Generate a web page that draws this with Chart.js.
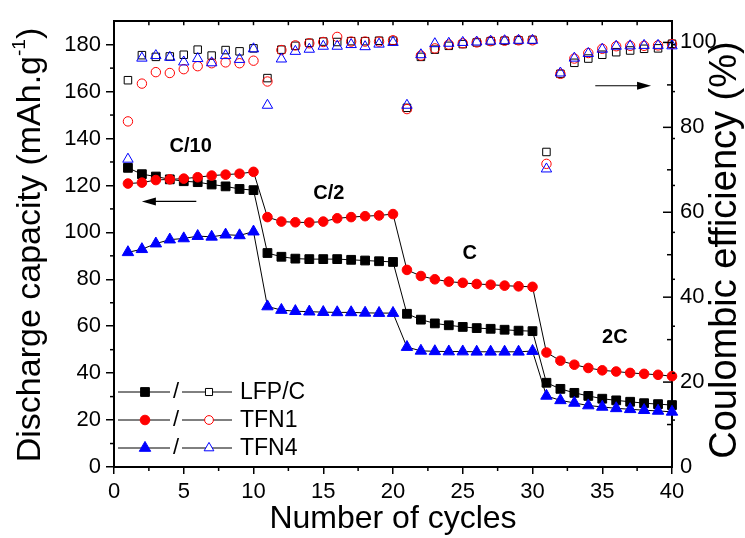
<!DOCTYPE html>
<html>
<head>
<meta charset="utf-8">
<script src="https://cdn.jsdelivr.net/npm/chart.js@4.4.0/dist/chart.umd.min.js"></script>
<style>
  html, body { margin: 0; padding: 0; background: #fff; }
  canvas { display: block; }
</style>
</head>
<body>
<canvas id="grafico" width="745" height="538"></canvas>
<script>
const familia = "'Liberation Sans', Arial, sans-serif";

const ciclos = [1, 2, 3, 4, 5, 6, 7, 8, 9, 10, 11, 12, 13, 14, 15, 16, 17, 18, 19, 20,
  21, 22, 23, 24, 25, 26, 27, 28, 29, 30, 31, 32, 33, 34, 35, 36, 37, 38, 39, 40];

const muestras = ['LFP/C', 'TFN1', 'TFN4'];
const regimenes = ['C/10', 'C/2', 'C', '2C'];

// capacidad de descarga (mAh/g)
const capLFP = [127.5, 124.8, 123.8, 122.6, 121.8, 121.4, 120.4, 119.6, 118.5, 118.0,
  91.2, 89.6, 88.8, 88.6, 88.6, 88.6, 88.3, 88.0, 87.7, 87.4,
  65.3, 62.8, 61.2, 60.4, 59.7, 59.2, 58.9, 58.5, 58.1, 57.9,
  35.9, 33.3, 31.6, 30.3, 29.1, 28.4, 27.8, 27.2, 26.8, 26.4];
const capTFN1 = [120.8, 121.2, 122.3, 122.6, 122.9, 123.5, 124.2, 124.6, 125.0, 125.8,
  106.5, 104.6, 104.3, 104.2, 104.6, 106.0, 106.5, 106.9, 107.2, 107.8,
  84.0, 81.4, 80.0, 79.0, 78.5, 78.0, 77.7, 77.3, 77.0, 76.8,
  48.8, 45.3, 43.6, 42.2, 41.2, 40.7, 40.1, 39.7, 39.3, 38.7];
const capTFN4 = [91.5, 92.8, 95.2, 96.9, 97.4, 98.4, 98.1, 99.0, 98.7, 100.3,
  68.4, 66.9, 66.4, 66.2, 66.0, 65.9, 65.9, 65.7, 65.6, 65.6,
  51.1, 49.5, 49.3, 49.2, 49.2, 49.1, 49.1, 49.1, 49.1, 49.4,
  30.3, 28.4, 27.3, 26.2, 25.6, 25.0, 24.6, 24.2, 23.9, 23.5];

// eficiencia coulombica (%)
const efLFP = [91.1, 97.0, 96.6, 96.7, 97.1, 98.3, 96.9, 98.2, 97.9, 98.6,
  91.6, 98.3, 99.2, 99.9, 100.2, 100.1, 100.3, 100.3, 100.4, 100.4,
  84.6, 96.6, 98.3, 99.2, 99.6, 100.0, 100.3, 100.4, 100.5, 100.6,
  74.2, 92.6, 95.2, 96.2, 97.1, 97.7, 98.1, 98.5, 98.6, 99.7];
const efTFN1 = [81.4, 90.3, 93.0, 92.8, 93.7, 94.4, 95.1, 95.3, 95.1, 95.7,
  90.8, 98.2, 99.3, 99.8, 100.1, 101.3, 100.2, 100.2, 100.2, 100.5,
  84.3, 96.9, 98.6, 99.5, 99.8, 100.0, 100.3, 100.4, 100.5, 100.5,
  71.4, 92.6, 96.2, 97.5, 98.5, 99.1, 99.2, 99.2, 99.3, 99.6];
const efTFN4 = [72.5, 96.3, 96.9, 96.5, 95.4, 96.2, 95.2, 96.9, 96.0, 98.5,
  85.2, 96.1, 97.9, 98.4, 99.1, 99.1, 99.5, 99.0, 99.6, 100.0,
  85.2, 97.1, 99.7, 99.8, 100.0, 100.1, 100.3, 100.4, 100.5, 100.5,
  70.2, 92.8, 96.3, 97.4, 98.4, 99.1, 99.2, 99.3, 99.3, 99.2];

const colores = ['#000000', '#ff0000', '#0000ff'];
const estilos = ['rect', 'circle', 'triangle'];

const puntos = (valores) => ciclos.map((c, i) => ({ x: c, y: valores[i] }));

function serieLlena(label, valores, idx, orden) {
  const radios = [6.2, 4.8, 6.6];
  return {
    label: label,
    data: puntos(valores),
    yAxisID: 'y',
    borderColor: '#000',
    borderWidth: 1,
    pointStyle: estilos[idx],
    pointRadius: radios[idx],
    pointHoverRadius: radios[idx],
    pointBackgroundColor: colores[idx],
    pointBorderColor: colores[idx],
    pointBorderWidth: 1,
    tension: 0,
    clip: false,
    order: orden
  };
}

function serieHueca(label, valores, idx, orden) {
  const radios = [5.3, 4.7, 6.0];
  return {
    label: label,
    data: puntos(valores),
    yAxisID: 'y2',
    showLine: false,
    pointStyle: estilos[idx],
    pointRadius: radios[idx],
    pointHoverRadius: radios[idx],
    pointBackgroundColor: 'rgba(0,0,0,0)',
    pointBorderColor: colores[idx],
    pointBorderWidth: 1,
    clip: false,
    order: orden
  };
}

function marcador(ctx, estilo, x, y, r, relleno, borde) {
  ctx.beginPath();
  if (estilo === 'rect') {
    const s = r * Math.SQRT1_2;
    ctx.rect(x - s, y - s, 2 * s, 2 * s);
  } else if (estilo === 'circle') {
    ctx.arc(x, y, r, 0, Math.PI * 2);
  } else {
    ctx.moveTo(x, y - r);
    ctx.lineTo(x + r * 0.866, y + r * 0.5);
    ctx.lineTo(x - r * 0.866, y + r * 0.5);
    ctx.closePath();
  }
  ctx.fillStyle = relleno;
  ctx.fill();
  ctx.strokeStyle = borde;
  ctx.lineWidth = 1;
  ctx.stroke();
}

function linea(ctx, x1, y1, x2, y2) {
  ctx.beginPath();
  ctx.moveTo(x1, y1);
  ctx.lineTo(x2, y2);
  ctx.stroke();
}

function flecha(ctx, x1, y1, x2, y2) {
  const dir = Math.sign(x2 - x1);
  ctx.lineWidth = 1.2;
  linea(ctx, x1, y1, x2 - dir * 10, y2);
  ctx.beginPath();
  ctx.moveTo(x2, y2);
  ctx.lineTo(x2 - dir * 14, y2 - 4);
  ctx.lineTo(x2 - dir * 14, y2 + 4);
  ctx.closePath();
  ctx.fill();
}

const extras = {
  id: 'extras',
  afterDraw(chart) {
    const { ctx, chartArea: area, scales: { x, y, y2 } } = chart;
    ctx.save();
    ctx.strokeStyle = '#000';
    ctx.fillStyle = '#000';
    ctx.lineWidth = 1.5;

    // marcas menores e interiores
    for (let v = 2.5; v < 40; v += 2.5) {
      const px = x.getPixelForValue(v);
      if (v % 5 !== 0) linea(ctx, px, area.bottom, px, area.bottom + 4);
      linea(ctx, px, area.top, px, area.top + 4);
    }
    for (let v = 10; v < 190; v += 20) {
      const py = y.getPixelForValue(v);
      linea(ctx, area.left - 4, py, area.left, py);
    }
    for (let v = 0; v <= 100; v += 20) {
      const py = y2.getPixelForValue(v);
      linea(ctx, area.right - 9, py, area.right, py);
    }
    for (let v = 10; v < 105; v += 20) {
      const py = y2.getPixelForValue(v);
      linea(ctx, area.right - 5, py, area.right, py);
    }
    for (let v = 20; v < 190; v += 20) {
      const py = y.getPixelForValue(v);
      linea(ctx, area.right, py, area.right + 3, py);
    }

    // titulos de los ejes verticales
    ctx.textBaseline = 'middle';
    ctx.textAlign = 'left';
    ctx.save();
    ctx.translate(31, 245);
    ctx.rotate(-Math.PI / 2);
    ctx.font = `34px ${familia}`;
    const base = 'Discharge capacity (mAh.g';
    const w1 = ctx.measureText(base).width;
    const w3 = ctx.measureText(')').width;
    ctx.font = `19px ${familia}`;
    const w2 = ctx.measureText('-1').width;
    let xx = -(w1 + w2 + w3) / 2;
    ctx.font = `34px ${familia}`;
    ctx.fillText(base, xx, 0);
    xx += w1;
    ctx.font = `19px ${familia}`;
    ctx.fillText('-1', xx, -11);
    xx += w2;
    ctx.font = `34px ${familia}`;
    ctx.fillText(')', xx, 0);
    ctx.restore();

    ctx.save();
    ctx.translate(726, 250);
    ctx.rotate(-Math.PI / 2);
    ctx.font = `38px ${familia}`;
    ctx.textAlign = 'center';
    ctx.fillText('Coulombic efficiency (%)', 0, 0);
    ctx.restore();

    // regimenes de carga
    ctx.font = `bold 20px ${familia}`;
    ctx.textAlign = 'center';
    const sitios = [[5.5, 136.8], [15.4, 116.6], [25.5, 90.9], [35.9, 55.1]];
    regimenes.forEach((txt, i) => {
      ctx.fillText(txt, x.getPixelForValue(sitios[i][0]), y.getPixelForValue(sitios[i][1]));
    });

    // flechas
    flecha(ctx, x.getPixelForValue(5.9), y.getPixelForValue(113.2),
      x.getPixelForValue(2.0), y.getPixelForValue(113.2));
    flecha(ctx, x.getPixelForValue(34.5), y2.getPixelForValue(89.8),
      x.getPixelForValue(38.5), y2.getPixelForValue(89.8));

    // leyenda
    const radiosLlenos = [6.2, 4.8, 6.6];
    const radiosHuecos = [5.0, 4.4, 5.6];
    ctx.textAlign = 'left';
    muestras.forEach((nombre, i) => {
      const fy = area.bottom - 75 + i * 28;
      const lx = area.left + 4;
      ctx.strokeStyle = '#000';
      ctx.lineWidth = 1;
      linea(ctx, lx, fy, lx + 52, fy);
      linea(ctx, lx + 64, fy, lx + 114, fy);
      marcador(ctx, estilos[i], lx + 27, fy, radiosLlenos[i], colores[i], colores[i]);
      marcador(ctx, estilos[i], lx + 91, fy, radiosHuecos[i], '#fff', colores[i]);
      ctx.fillStyle = '#000';
      ctx.font = `22px ${familia}`;
      ctx.fillText('/', lx + 55, fy);
      ctx.font = `23px ${familia}`;
      ctx.fillText(nombre, lx + 122, fy + 1);
    });
    ctx.restore();
  }
};

const fuenteTicks = { size: 22, family: familia };

new Chart(document.getElementById('grafico'), {
  type: 'line',
  data: {
    datasets: [
      serieLlena('LFP/C', capLFP, 0, 6),
      serieLlena('TFN1', capTFN1, 1, 5),
      serieLlena('TFN4', capTFN4, 2, 4),
      serieHueca('LFP/C', efLFP, 0, 3),
      serieHueca('TFN1', efTFN1, 1, 2),
      serieHueca('TFN4', efTFN4, 2, 1)
    ]
  },
  options: {
    responsive: false,
    animation: false,
    events: [],
    layout: { padding: 0 },
    plugins: {
      legend: { display: false },
      tooltip: { enabled: false }
    },
    scales: {
      x: {
        type: 'linear',
        position: 'bottom',
        min: 0,
        max: 40,
        ticks: { stepSize: 5, color: '#000', font: fuenteTicks, padding: 5, maxRotation: 0 },
        grid: { drawOnChartArea: false, tickLength: 7, color: '#000', lineWidth: 1.5 },
        border: { color: '#000', width: 2 },
        title: {
          display: true,
          text: 'Number of cycles',
          color: '#000',
          font: { size: 32, family: familia },
          padding: { top: 0, bottom: 0 }
        },
        afterFit: (escala) => { escala.height = 71; }
      },
      x2: {
        type: 'linear',
        position: 'top',
        min: 0,
        max: 40,
        ticks: { display: false },
        grid: { drawOnChartArea: false, drawTicks: false },
        border: { color: '#000', width: 2 },
        afterFit: (escala) => { escala.height = 15; }
      },
      y: {
        type: 'linear',
        position: 'left',
        min: 0,
        max: 190,
        ticks: { stepSize: 20, includeBounds: false, color: '#000', font: fuenteTicks, padding: 5 },
        grid: { drawOnChartArea: false, tickLength: 8, color: '#000', lineWidth: 1.5 },
        border: { color: '#000', width: 2 },
        afterFit: (escala) => { escala.width = 114; }
      },
      y2: {
        type: 'linear',
        position: 'right',
        min: 0,
        max: 105,
        ticks: { stepSize: 20, includeBounds: false, color: '#000', font: fuenteTicks, padding: 8 },
        grid: { drawOnChartArea: false, drawTicks: false },
        border: { color: '#000', width: 2 },
        afterFit: (escala) => { escala.width = 73; }
      }
    }
  },
  plugins: [extras]
});
</script>
</body>
</html>
